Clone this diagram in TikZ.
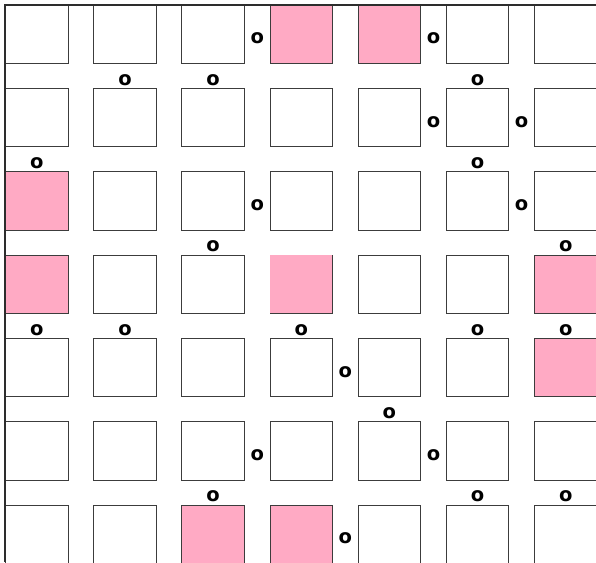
\documentclass[tikz,border=0pt]{standalone}
\usepackage{fontspec}
\newfontfamily\markfont{DejaVu Sans}
\definecolor{cellpink}{RGB}{255,170,196}
\definecolor{cellline}{RGB}{60,60,60}
\definecolor{frameline}{RGB}{45,45,45}
\tikzset{
  cell/.style={draw=cellline, line width=0.9pt, fill=white},
  pinkcell/.style={draw=cellline, line width=0.9pt, fill=cellpink},
  pinknoline/.style={fill=cellpink},
  frameedge/.style={draw=frameline, line width=1.5pt},
  omark/.style={inner sep=0pt, font=\markfont\bfseries\fontsize{19.5}{19.5}\selectfont}
}
\newcommand{\colx}[1]{5.6+88.15*#1}
\newcommand{\rowy}[1]{5+83.33*#1}
\begin{document}
\begin{tikzpicture}[x=1pt,y=-1pt]
\useasboundingbox (0,0) rectangle (596,562);
\clip (0,0) rectangle (596,562);
% white cells
\foreach \c in {0,...,6}{
  \foreach \r in {0,...,6}{
    \draw[cell] ({\colx{\c}},{\rowy{\r}}) rectangle ++(62.4,58.3);
  }
}
% pink cells
\foreach \c/\r in {3/0,4/0,0/2,0/3,6/3,6/4,2/6,3/6}{
  \draw[pinkcell] ({\colx{\c}},{\rowy{\r}}) rectangle ++(62.4,58.3);
}
\fill[pinknoline] ({\colx{3}},{\rowy{3}}) rectangle ++(62.4,58.3);
% frame
\draw[frameedge] (4.8,562) -- (4.8,4.8) -- (596,4.8);
% marks between columns
\foreach \c/\r [count=\i] in {2/0,4/0,4/1,5/1,2/2,5/2,3/4,2/5,4/5,3/6}{
  \node[omark] (h\i) at ({\colx{\c}+75.3},{\rowy{\r}+33.5}) {o};
}
% marks between rows
\foreach \c/\r [count=\i] in {1/1,2/1,5/1,0/2,5/2,2/3,6/3,0/4,1/4,3/4,5/4,6/4,4/5,2/6,5/6,6/6}{
  \node[omark] (v\i) at ({\colx{\c}+31.2},{\rowy{\r}-8.6}) {o};
}
\end{tikzpicture}
\end{document}
